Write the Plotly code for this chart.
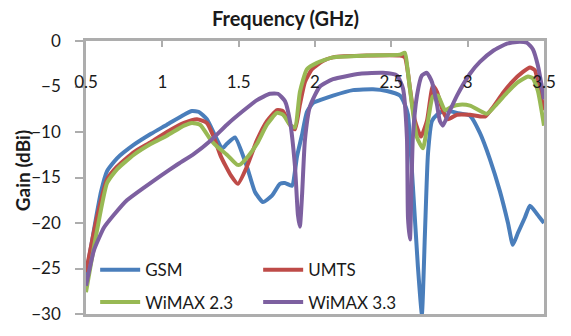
import plotly.graph_objects as go

# ---- data ----
gsm_f = [0.500, 0.560, 0.598, 0.638, 0.703, 0.814, 0.926, 1.030, 1.142, 1.194, 1.240, 1.292,
         1.351, 1.391, 1.423, 1.476, 1.554, 1.607, 1.659, 1.718, 1.770, 1.803, 1.849, 1.882,
         1.915, 1.947, 1.987, 2.032, 2.118, 2.249, 2.380, 2.471, 2.556, 2.589, 2.609, 2.641,
         2.674, 2.700, 2.720, 2.740, 2.766, 2.799, 2.851, 2.930, 3.015, 3.080, 3.146, 3.211,
         3.264, 3.296, 3.329, 3.375, 3.408, 3.454, 3.500]
gsm_g = [-25.8, -20.0, -16.6, -14.3, -12.9, -11.4, -10.2, -9.2, -8.1, -7.7, -7.8, -8.6,
         -10.6, -11.8, -11.3, -10.6, -13.8, -16.6, -17.7, -17.0, -15.7, -15.6, -15.9, -12.7,
         -10.3, -7.8, -6.8, -6.5, -6.0, -5.4, -5.3, -5.5, -6.0, -7.0, -8.1, -15.9,
         -24.8, -30.0, -21.2, -12.4, -8.8, -8.1, -7.6, -7.9, -8.2, -10.1, -13.0, -16.5,
         -20.0, -22.4, -21.1, -19.4, -18.1, -19.0, -20.0]

umts_f = [0.500, 0.570, 0.638, 0.703, 0.814, 0.926, 1.030, 1.142, 1.227, 1.292, 1.338, 1.384,
          1.450, 1.495, 1.554, 1.620, 1.685, 1.751, 1.790, 1.836, 1.869, 1.901, 1.934, 1.980,
          2.052, 2.118, 2.340, 2.556, 2.589, 2.609, 2.622, 2.655, 2.694, 2.733, 2.772, 2.799,
          2.838, 2.871, 2.930, 3.015, 3.113, 3.165, 3.231, 3.296, 3.362, 3.408, 3.440, 3.473,
          3.500]
umts_g = [-25.4, -19.5, -15.2, -13.8, -12.2, -11.1, -10.0, -9.0, -8.6, -9.0, -10.6, -12.7,
          -14.8, -15.7, -13.8, -10.9, -8.8, -7.6, -7.7, -9.2, -9.7, -7.0, -4.5, -3.1,
          -2.2, -1.8, -1.6, -1.6, -1.8, -3.5, -5.2, -8.8, -10.5, -8.8, -4.9, -5.6,
          -7.7, -8.6, -8.1, -8.1, -8.3, -7.3, -5.7, -4.4, -3.4, -2.9, -3.2, -5.5,
          -7.6]

wimax23_f = [0.500, 0.570, 0.638, 0.703, 0.814, 0.926, 1.030, 1.142, 1.194, 1.247, 1.319, 1.358,
             1.423, 1.489, 1.508, 1.561, 1.620, 1.685, 1.751, 1.790, 1.836, 1.869, 1.901, 1.947,
             2.013, 2.118, 2.340, 2.556, 2.589, 2.609, 2.635, 2.668, 2.707, 2.740, 2.772, 2.805,
             2.851, 2.897, 2.949, 3.015, 3.126, 3.192, 3.257, 3.323, 3.395, 3.427, 3.460, 3.500]
wimax23_g = [-27.6, -21.0, -15.6, -14.1, -12.5, -11.3, -10.4, -9.3, -9.0, -9.2, -10.9, -11.6,
             -12.5, -13.6, -13.6, -12.7, -11.3, -9.2, -7.9, -8.1, -9.2, -9.5, -5.6, -3.1,
             -2.4, -1.8, -1.6, -1.5, -1.3, -3.5, -7.0, -10.6, -11.8, -8.8, -6.1, -6.0,
             -7.6, -7.2, -7.0, -7.1, -8.0, -6.9, -5.7, -4.6, -3.9, -4.1, -5.5, -9.3]

wimax33_f = [0.500, 0.552, 0.618, 0.683, 0.768, 0.880, 0.991, 1.096, 1.207, 1.319, 1.423, 1.528,
             1.620, 1.705, 1.757, 1.803, 1.836, 1.869, 1.888, 1.901, 1.915, 1.934, 1.967, 2.032,
             2.118, 2.294, 2.445, 2.537, 2.576, 2.602, 2.609, 2.622, 2.641, 2.668, 2.700, 2.733,
             2.766, 2.799, 2.818, 2.838, 2.871, 2.930, 3.015, 3.080, 3.165, 3.257, 3.323, 3.388,
             3.427, 3.460, 3.500]
wimax33_g = [-26.9, -23.0, -20.5, -19.1, -17.5, -16.1, -14.8, -13.6, -12.4, -10.9, -9.2, -7.7,
             -6.5, -5.8, -5.8, -6.6, -8.8, -13.8, -19.1, -20.4, -17.0, -10.9, -7.2, -5.0,
             -4.2, -3.6, -3.5, -3.8, -5.2, -10.6, -19.4, -21.8, -10.6, -6.0, -3.8, -3.5,
             -4.5, -7.0, -8.8, -9.3, -8.1, -6.0, -3.6, -2.3, -1.1, -0.3, -0.1, -0.2,
             -0.9, -2.7, -6.4]

series_names = ["GSM", "UMTS", "WiMAX 2.3", "WiMAX 3.3"]
x_ticks = [0.5, 1, 1.5, 2, 2.5, 3, 3.5]
x_tick_text = ["0.5", "1", "1.5", "2", "2.5", "3", "3.5"]
y_ticks = [0, -5, -10, -15, -20, -25, -30]

colors = ["#4A7EBB", "#BE4B48", "#98B954", "#7D60A0"]
FONT = "Lato, Carlito, 'Liberation Sans', sans-serif"
GRID = "#ADADAD"
TXT = "#1a1a1a"

fig = go.Figure()
data = [(gsm_f, gsm_g), (umts_f, umts_g), (wimax23_f, wimax23_g), (wimax33_f, wimax33_g)]
legends = ["legend", "legend", "legend2", "legend2"]
for (xf, yg), name, c, lg in zip(data, series_names, colors, legends):
    fig.add_trace(go.Scatter(x=xf, y=yg, name=name, mode="lines",
                             line=dict(color=c, width=4, shape="spline", smoothing=0.5),
                             legend=lg))

# invisible trace on the label axis
fig.add_trace(go.Scatter(x=gsm_f, y=gsm_g, xaxis="x2", mode="lines",
                         line=dict(color="rgba(0,0,0,0)", width=0),
                         showlegend=False, hoverinfo="skip"))

fig.update_layout(
    width=571, height=336,
    margin=dict(l=86, r=27, t=41, b=14),
    paper_bgcolor="white", plot_bgcolor="white",
    font=dict(family=FONT, size=17, color=TXT),
    title=dict(text="<b>Frequency (GHz)</b>", x=0.5, xref="container", xanchor="center",
               y=1 - 19 / 336, yref="container", yanchor="middle",
               font=dict(family=FONT, size=20, color=TXT)),
    xaxis=dict(range=[0.5, 3.5], side="top", tickvals=x_ticks, showticklabels=False,
               ticks="inside", ticklen=6, tickcolor=GRID, tickwidth=1.5,
               showline=True, linecolor=GRID, linewidth=2.5, mirror=True,
               showgrid=False, zeroline=False),
    xaxis2=dict(range=[0.5, 3.5], overlaying="x", anchor="free", position=0.893,
                side="bottom", tickvals=x_ticks, ticktext=x_tick_text, ticks="",
                showline=False, showgrid=False, zeroline=False,
                tickfont=dict(family=FONT, size=17, color=TXT)),
    yaxis=dict(range=[-30, 0], tickvals=y_ticks, ticks="outside", ticklen=8,
               tickcolor=GRID, tickwidth=1.5, showline=True, linecolor=GRID,
               linewidth=2.5, mirror=True, showgrid=False, zeroline=False,
               ticklabelstandoff=11,
               tickfont=dict(family=FONT, size=17, color=TXT)),
    annotations=[dict(text="<b>Gain (dBi)</b>", textangle=-90, xref="paper", yref="paper",
                      x=(22 - 86) / 458, y=(322 - 175) / 281, xanchor="center", yanchor="middle",
                      showarrow=False, font=dict(family=FONT, size=19, color=TXT))],
    legend=dict(orientation="h", x=0.02, xanchor="left", y=(322 - 277) / 281, yanchor="middle",
                bgcolor="rgba(0,0,0,0)", entrywidth=108, entrywidthmode="pixels",
                font=dict(family=FONT, size=17, color=TXT), itemwidth=40),
    legend2=dict(orientation="h", x=0.02, xanchor="left", y=(322 - 310) / 281, yanchor="middle",
                 bgcolor="rgba(0,0,0,0)", entrywidth=108, entrywidthmode="pixels",
                 font=dict(family=FONT, size=17, color=TXT), itemwidth=40),
    showlegend=True,
)

fig.write_html("out.html")
